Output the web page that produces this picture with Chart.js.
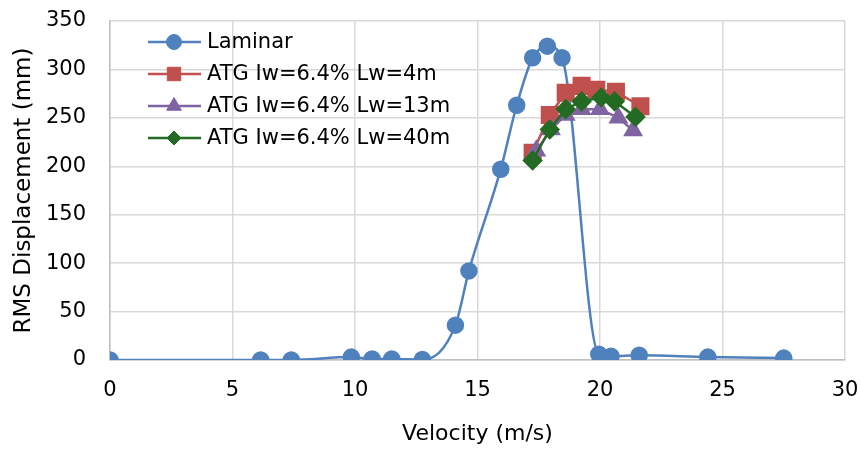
<!DOCTYPE html>
<html>
<head>
<meta charset="utf-8">
<script src="https://cdn.jsdelivr.net/npm/chart.js"></script>
<style>
  html, body { margin: 0; padding: 0; background: #fff; }
  #wrap { width: 861px; height: 450px; }
</style>
</head>
<body>
<div id="wrap"><canvas id="chart" width="861" height="450"></canvas></div>
<script>
// Laminar
const laminarX = [0, 6.15, 7.4, 9.85, 10.7, 11.5, 12.75, 14.1, 14.65, 15.95, 16.6, 17.25, 17.85, 18.45, 19.95, 20.45, 21.6, 24.4, 27.5];
const laminarY = [0, 0, 0, 3, 1, 1, 0.5, 36, 92, 197, 263, 312, 324, 312, 6, 4, 5, 3, 2];
// ATG Iw=6.4% Lw=4m
const lw4X = [17.25, 17.95, 18.6, 19.25, 19.85, 20.65, 21.65];
const lw4Y = [214, 253, 276, 283, 279, 277, 262];
// ATG Iw=6.4% Lw=13m
const lw13X = [17.4, 18.0, 18.6, 19.25, 20.0, 20.75, 21.35];
const lw13Y = [216, 238, 253, 259, 259, 250, 237];
// ATG Iw=6.4% Lw=40m
const lw40X = [17.25, 17.95, 18.6, 19.25, 20.05, 20.6, 21.45];
const lw40Y = [206, 238, 259, 267, 271, 267, 251];

const seriesNames = ['Laminar', 'ATG Iw=6.4% Lw=4m', 'ATG Iw=6.4% Lw=13m', 'ATG Iw=6.4% Lw=40m'];
const xTicks = [0, 5, 10, 15, 20, 25, 30];
const yTicks = [0, 50, 100, 150, 200, 250, 300, 350];

const FONT = "'DejaVu Sans', sans-serif";

function toPoints(xs, ys) {
    return xs.map((x, i) => ({x: x, y: ys[i]}));
}

// legend drawn inside the plot, line + marker like the original
const insideLegend = {
    id: 'insideLegend',
    afterDraw(chart) {
        const ctx = chart.ctx;
        const rows = [42, 74, 106, 138];
        chart.data.datasets.forEach((ds, i) => {
            const y = rows[i];
            ctx.save();
            ctx.strokeStyle = ds.borderColor;
            ctx.lineWidth = 2.5;
            ctx.beginPath();
            ctx.moveTo(148, y);
            ctx.lineTo(201, y);
            ctx.stroke();
            ctx.fillStyle = ds.pointBackgroundColor;
            ctx.strokeStyle = ds.pointBorderColor;
            ctx.lineWidth = 1;
            Chart.helpers.drawPoint(ctx, {pointStyle: ds.pointStyle, rotation: 0, borderWidth: 1, radius: ds.legendRadius}, 174, y);
            ctx.fillStyle = '#000';
            ctx.font = '21px ' + FONT;
            ctx.textBaseline = 'middle';
            ctx.fillText(ds.label, 207, y + 1);
            ctx.restore();
        });
    }
};

new Chart(document.getElementById('chart'), {
    type: 'scatter',
    plugins: [insideLegend],
    data: {
        datasets: [
            {
                label: seriesNames[0],
                data: toPoints(laminarX, laminarY),
                showLine: true,
                cubicInterpolationMode: 'monotone',
                borderColor: '#4F81BD',
                borderWidth: 2.5,
                pointStyle: 'circle',
                pointRadius: 7.5,
                legendRadius: 7.5,
                pointBackgroundColor: '#4F81BD',
                pointBorderColor: '#4F81BD',
                order: 4
            },
            {
                label: seriesNames[1],
                data: toPoints(lw4X, lw4Y),
                showLine: true,
                borderColor: '#C0504D',
                borderWidth: 2.5,
                pointStyle: 'rect',
                pointRadius: 11,
                legendRadius: 9.5,
                pointBackgroundColor: '#C0504D',
                pointBorderColor: '#C0504D',
                order: 3
            },
            {
                label: seriesNames[2],
                data: toPoints(lw13X, lw13Y),
                showLine: true,
                borderColor: '#8064A2',
                borderWidth: 2.5,
                pointStyle: 'triangle',
                pointRadius: 9,
                legendRadius: 8.5,
                pointBackgroundColor: '#8064A2',
                pointBorderColor: '#8064A2',
                order: 2
            },
            {
                label: seriesNames[3],
                data: toPoints(lw40X, lw40Y),
                showLine: true,
                borderColor: '#236B23',
                borderWidth: 2.5,
                pointStyle: 'rectRot',
                pointRadius: 8.5,
                legendRadius: 7,
                pointBackgroundColor: '#236B23',
                pointBorderColor: '#236B23',
                order: 1
            }
        ]
    },
    options: {
        responsive: false,
        animation: false,
        layout: { padding: 0 },
        plugins: {
            legend: { display: false },
            tooltip: { enabled: false }
        },
        scales: {
            x: {
                type: 'linear',
                min: 0,
                max: 30,
                afterFit: s => {
                    s.height = 90;
                    s.paddingLeft = 0;
                    s.paddingRight = 16;
                },
                afterBuildTicks: s => { s.ticks = xTicks.map(v => ({value: v})); },
                grid: { color: '#D9D9D9', lineWidth: 1.5, drawTicks: false },
                border: { color: '#BFBFBF', width: 1.5 },
                ticks: { color: '#000', padding: 18, font: { family: FONT, size: 21 } },
                title: {
                    display: true,
                    text: 'Velocity (m/s)',
                    color: '#000',
                    font: { family: FONT, size: 22 },
                    padding: { top: 0, bottom: 3 }
                }
            },
            y: {
                type: 'linear',
                min: 0,
                max: 350,
                afterFit: s => {
                    s.width = 110;
                    s.paddingTop = 21;
                    s.paddingBottom = 0;
                },
                afterBuildTicks: s => { s.ticks = yTicks.map(v => ({value: v})); },
                grid: { color: '#D9D9D9', lineWidth: 1.5, drawTicks: false },
                border: { color: '#BFBFBF', width: 1.5 },
                ticks: { color: '#000', padding: 24, font: { family: FONT, size: 21 } },
                title: {
                    display: true,
                    text: 'RMS Displacement (mm)',
                    color: '#000',
                    font: { family: FONT, size: 23 },
                    padding: { top: 10, bottom: 0 }
                }
            }
        }
    }
});
</script>
</body>
</html>
